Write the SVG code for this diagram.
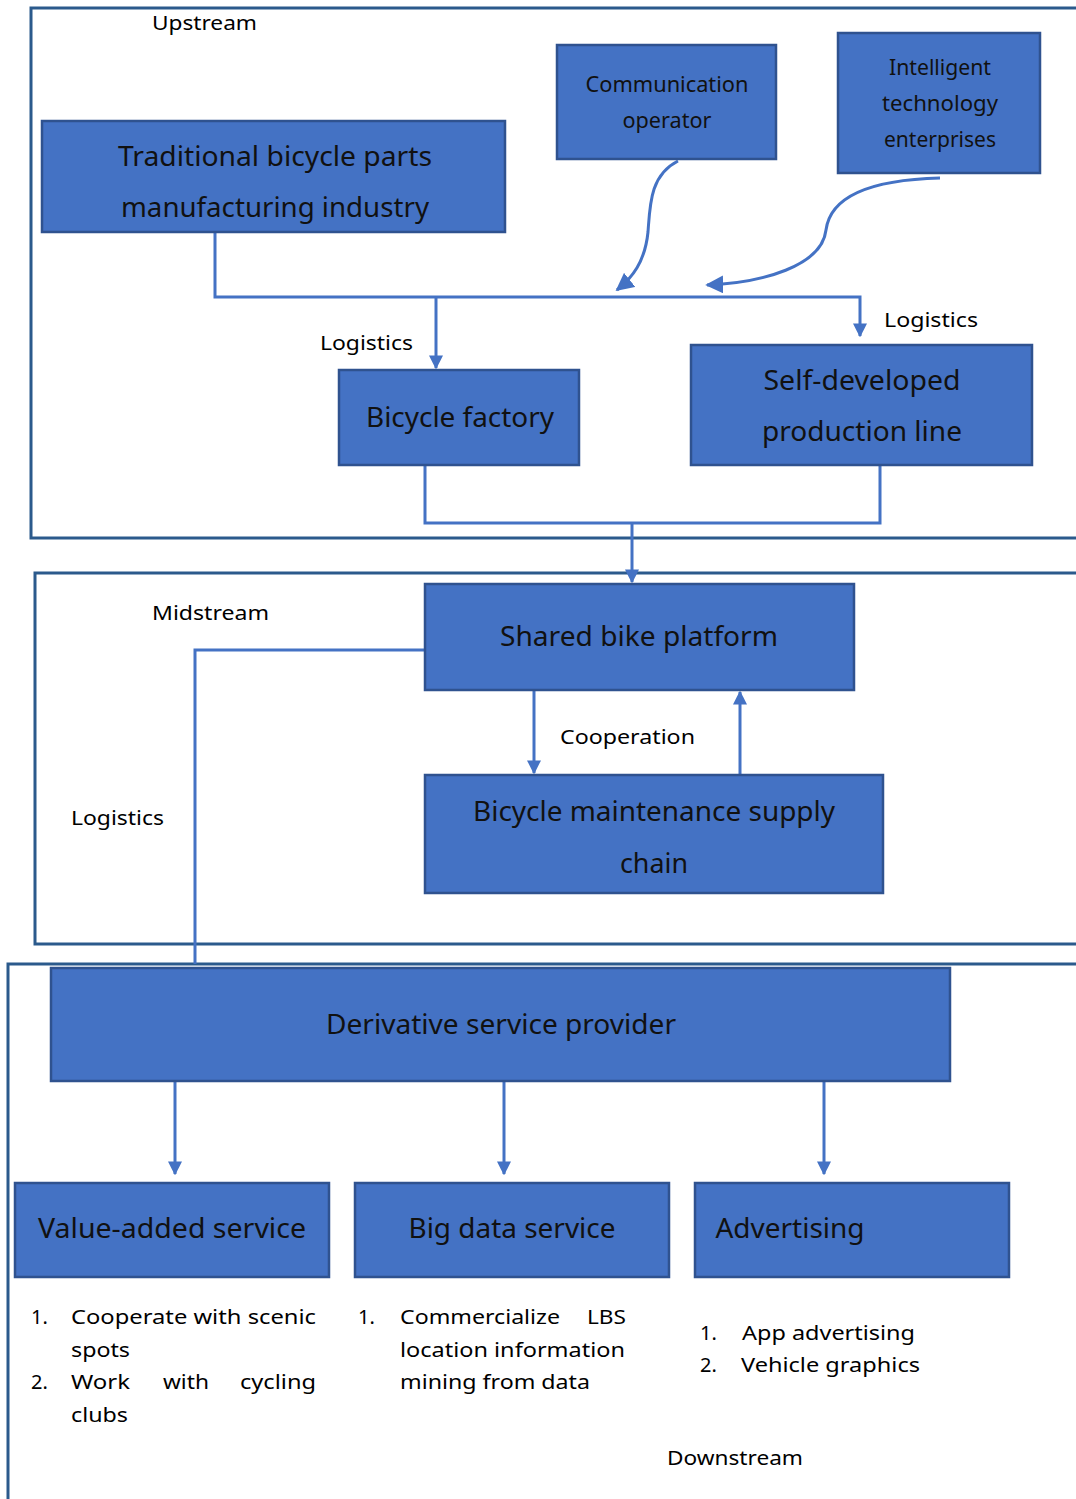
<svg xmlns="http://www.w3.org/2000/svg" width="1076" height="1499" viewBox="0 0 1076 1499">
<style>
.cont{fill:none;stroke:#2B5A8C;stroke-width:3}
.node{fill:#4472C4;stroke:#2F528F;stroke-width:2.5}
.nt{font-family:"Noto Sans","Open Sans",sans-serif;fill:#111;text-anchor:middle}
.big{font-size:27px}
.mid{font-size:21px}
.lbl{font-family:"Noto Sans","Open Sans",sans-serif;font-size:20px;fill:#000}
.con{fill:none;stroke:#4472C4;stroke-width:3}
</style>
<defs>
<marker id="ah" viewBox="0 0 10 10" refX="9" refY="5" markerWidth="14" markerHeight="14" markerUnits="userSpaceOnUse" orient="auto">
<path d="M0,0 L10,5 L0,10 z" fill="#4472C4"/>
</marker>
<marker id="ah2" viewBox="0 0 10 10" refX="9" refY="5" markerWidth="18" markerHeight="18" markerUnits="userSpaceOnUse" orient="auto">
<path d="M0,0 L10,5 L0,10 z" fill="#4472C4"/>
</marker>
</defs>
<rect width="1076" height="1499" fill="#fff"/>
<g id="containers">
<rect class="cont" x="31" y="8" width="1070" height="530"/>
<rect class="cont" x="35" y="573" width="1066" height="371"/>
<rect class="cont" x="8" y="964" width="1093" height="560"/>
</g>
<g id="connectors">
<path class="con" d="M215,232 V297 H860 V336" marker-end="url(#ah)"/>
<path class="con" d="M436,297 V368" marker-end="url(#ah)"/>
<path class="con" d="M678,161 C650,175 650,205 648,232 C645,262 632,278 617,290" marker-end="url(#ah2)"/>
<path class="con" d="M940,178 C862,180 830,200 826,230 C822,266 762,283 707,285" marker-end="url(#ah2)"/>
<path class="con" d="M425,465 V523 H880 V465"/>
<path class="con" d="M632,523 V582" marker-end="url(#ah)"/>
<path class="con" d="M425,650 H195 V964"/>
<path class="con" d="M534,690 V773" marker-end="url(#ah)"/>
<path class="con" d="M740,775 V692" marker-end="url(#ah)"/>
<path class="con" d="M175,1081 V1174" marker-end="url(#ah)"/>
<path class="con" d="M504,1081 V1174" marker-end="url(#ah)"/>
<path class="con" d="M824,1081 V1174" marker-end="url(#ah)"/>
</g>
<g id="n-traditional">
<rect class="node" x="42" y="121" width="463" height="111"/>
<text class="nt big" x="275" y="166" textLength="314" lengthAdjust="spacingAndGlyphs">Traditional bicycle parts</text>
<text class="nt big" x="275" y="217" textLength="308" lengthAdjust="spacingAndGlyphs">manufacturing industry</text>
</g>
<g id="n-communication">
<rect class="node" x="557" y="45" width="219" height="114"/>
<text class="nt mid" x="667" y="92" textLength="163" lengthAdjust="spacingAndGlyphs">Communication</text>
<text class="nt mid" x="667" y="128" textLength="89" lengthAdjust="spacingAndGlyphs">operator</text>
</g>
<g id="n-intelligent">
<rect class="node" x="838" y="33" width="202" height="140"/>
<text class="nt mid" x="940" y="75" textLength="102" lengthAdjust="spacingAndGlyphs">Intelligent</text>
<text class="nt mid" x="940" y="111" textLength="116" lengthAdjust="spacingAndGlyphs">technology</text>
<text class="nt mid" x="940" y="147" textLength="112" lengthAdjust="spacingAndGlyphs">enterprises</text>
</g>
<g id="n-factory">
<rect class="node" x="339" y="370" width="240" height="95"/>
<text class="nt big" x="460" y="427" textLength="188" lengthAdjust="spacingAndGlyphs">Bicycle factory</text>
</g>
<g id="n-selfdev">
<rect class="node" x="691" y="345" width="341" height="120"/>
<text class="nt big" x="862" y="390" textLength="197" lengthAdjust="spacingAndGlyphs">Self-developed</text>
<text class="nt big" x="862" y="441" textLength="200" lengthAdjust="spacingAndGlyphs">production line</text>
</g>
<g id="n-shared">
<rect class="node" x="425" y="584" width="429" height="106"/>
<text class="nt big" x="639" y="646" textLength="278" lengthAdjust="spacingAndGlyphs">Shared bike platform</text>
</g>
<g id="n-maint">
<rect class="node" x="425" y="775" width="458" height="118"/>
<text class="nt big" x="654" y="821" textLength="362" lengthAdjust="spacingAndGlyphs">Bicycle maintenance supply</text>
<text class="nt big" x="654" y="873" textLength="68" lengthAdjust="spacingAndGlyphs">chain</text>
</g>
<g id="n-derivative">
<rect class="node" x="51" y="968" width="899" height="113"/>
<text class="nt big" x="501" y="1034" textLength="350" lengthAdjust="spacingAndGlyphs">Derivative service provider</text>
</g>
<g id="n-value">
<rect class="node" x="15" y="1183" width="314" height="94"/>
<text class="nt big" x="172" y="1238" textLength="268" lengthAdjust="spacingAndGlyphs">Value-added service</text>
</g>
<g id="n-bigdata">
<rect class="node" x="355" y="1183" width="314" height="94"/>
<text class="nt big" x="512" y="1238" textLength="207" lengthAdjust="spacingAndGlyphs">Big data service</text>
</g>
<g id="n-advert">
<rect class="node" x="695" y="1183" width="314" height="94"/>
<text class="nt big" x="790" y="1238" textLength="149" lengthAdjust="spacingAndGlyphs">Advertising</text>
</g>
<g id="labels">
<text class="lbl" x="152" y="30" textLength="105" lengthAdjust="spacingAndGlyphs">Upstream</text>
<text class="lbl" x="320" y="350" textLength="93" lengthAdjust="spacingAndGlyphs">Logistics</text>
<text class="lbl" x="884" y="327" textLength="94" lengthAdjust="spacingAndGlyphs">Logistics</text>
<text class="lbl" x="152" y="620" textLength="117" lengthAdjust="spacingAndGlyphs">Midstream</text>
<text class="lbl" x="560" y="744" textLength="135" lengthAdjust="spacingAndGlyphs">Cooperation</text>
<text class="lbl" x="71" y="825" textLength="93" lengthAdjust="spacingAndGlyphs">Logistics</text>
<text class="lbl" x="667" y="1465" textLength="136" lengthAdjust="spacingAndGlyphs">Downstream</text>
</g>
<g id="lists">
<text class="lbl" x="31" y="1324">1.</text>
<text class="lbl" x="71" y="1324" textLength="245" lengthAdjust="spacingAndGlyphs">Cooperate with scenic</text>
<text class="lbl" x="71" y="1357" textLength="59" lengthAdjust="spacingAndGlyphs">spots</text>
<text class="lbl" x="31" y="1389">2.</text>
<text class="lbl" x="71" y="1389" textLength="59" lengthAdjust="spacingAndGlyphs">Work</text>
<text class="lbl" x="163" y="1389" textLength="46" lengthAdjust="spacingAndGlyphs">with</text>
<text class="lbl" x="240" y="1389" textLength="76" lengthAdjust="spacingAndGlyphs">cycling</text>
<text class="lbl" x="71" y="1422" textLength="57" lengthAdjust="spacingAndGlyphs">clubs</text>
<text class="lbl" x="358" y="1324">1.</text>
<text class="lbl" x="400" y="1324" textLength="160" lengthAdjust="spacingAndGlyphs">Commercialize</text>
<text class="lbl" x="587" y="1324" textLength="39" lengthAdjust="spacingAndGlyphs">LBS</text>
<text class="lbl" x="400" y="1357" textLength="225" lengthAdjust="spacingAndGlyphs">location information</text>
<text class="lbl" x="400" y="1389" textLength="190" lengthAdjust="spacingAndGlyphs">mining from data</text>
<text class="lbl" x="700" y="1340">1.</text>
<text class="lbl" x="742" y="1340" textLength="173" lengthAdjust="spacingAndGlyphs">App advertising</text>
<text class="lbl" x="700" y="1372">2.</text>
<text class="lbl" x="741" y="1372" textLength="179" lengthAdjust="spacingAndGlyphs">Vehicle graphics</text>
</g>
</svg>
